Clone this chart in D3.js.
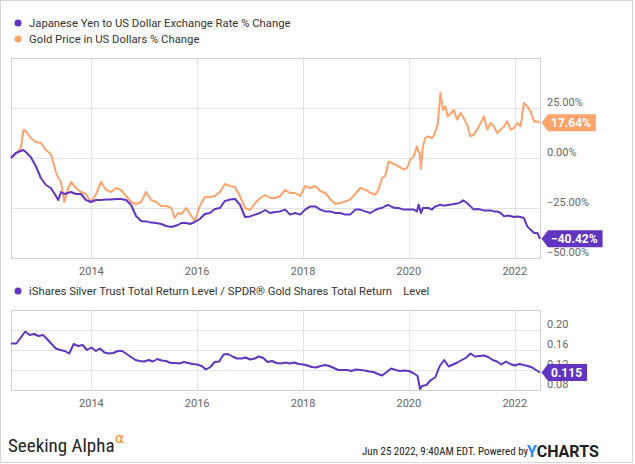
<!DOCTYPE html>
<html><head><meta charset="utf-8">
<script src="https://cdn.jsdelivr.net/npm/d3@7"></script>
<style>
html,body{margin:0;padding:0;background:#fff;}
svg{display:block;}
</style></head>
<body>
<svg id="chart" width="635" height="464"></svg>
<script>
// ---------------- DATA ----------------
const topDates = [
"2012-06-25","2012-07-28","2012-09-01","2012-09-19","2012-10-05","2012-11-08","2012-12-13","2013-01-17","2013-02-21","2013-03-27",
"2013-05-01","2013-05-17","2013-06-05","2013-06-28","2013-07-21","2013-08-13","2013-09-16","2013-10-21","2013-11-24","2013-12-29",
"2014-02-02","2014-03-08","2014-04-12","2014-05-16","2014-06-20","2014-07-24","2014-08-28","2014-10-02","2014-11-05","2014-12-10",
"2015-01-13","2015-02-17","2015-03-24","2015-04-28","2015-06-01","2015-07-06","2015-07-29","2015-08-21","2015-09-13","2015-10-18",
"2015-11-12","2015-12-16","2016-01-19","2016-02-23","2016-03-29","2016-05-02","2016-06-06","2016-07-10","2016-08-14","2016-09-18",
"2016-10-22","2016-11-26","2016-12-31","2017-02-04","2017-03-10","2017-04-14","2017-05-18","2017-06-22","2017-07-26","2017-08-30",
"2017-10-03","2017-11-07","2017-12-12","2018-01-15","2018-02-19","2018-03-26","2018-04-29","2018-06-03","2018-07-07","2018-08-11",
"2018-09-14","2018-10-19","2018-11-22","2018-12-27",
"2019-01-30","2019-03-06","2019-04-10","2019-05-14","2019-06-06","2019-06-29","2019-07-22","2019-08-14","2019-09-06","2019-09-29",
"2019-10-22","2019-11-26","2019-12-19","2020-01-11","2020-02-03","2020-02-26","2020-03-08","2020-03-15","2020-03-24","2020-04-07",
"2020-04-23","2020-05-16","2020-06-08","2020-06-25","2020-07-18","2020-08-06","2020-08-24","2020-09-09","2020-09-25","2020-10-19",
"2020-11-06","2020-11-29","2020-12-22","2021-01-10","2021-02-06","2021-03-01","2021-03-24","2021-04-16","2021-05-10","2021-06-02",
"2021-06-25","2021-07-18","2021-08-10","2021-09-02","2021-09-25","2021-10-19","2021-11-10","2021-12-03","2021-12-26","2022-01-18",
"2022-02-10","2022-03-05","2022-03-28","2022-04-20","2022-05-14","2022-06-06","2022-06-24"
];
const yenChange = [
0,2.5,3.5,4,3,0.5,-4,-10,-13.5,-15,
-19,-21,-17,-18,-17.5,-17,-18,-18,-21,-22,
-21,-21,-20.8,-20.8,-20.5,-20.5,-21,-23.5,-29,-31.5,
-31.7,-32.3,-32.5,-33,-34,-34.5,-34,-33.5,-32.5,-32.5,
-33,-32,-30.5,-28,-27.5,-25.5,-25,-21.5,-20.8,-20.5,
-23.3,-29.5,-29.2,-28.3,-27.5,-26,-27.5,-27,-26.7,-25.8,
-28.3,-27.5,-28.3,-25.8,-24.2,-24.2,-25.8,-26.7,-26.7,-27.5,
-27.5,-28.3,-28.3,-25.8,
-25.8,-26.7,-27.5,-26,-25.3,-25,-24,-23.5,-24.5,-25,
-25,-25.8,-25.8,-25.8,-25.8,-26.7,-23.3,-25,-27.5,-25,
-25,-25,-25.8,-24.5,-23.8,-23.3,-23.8,-23.8,-23.5,-23.3,
-23,-22.8,-22.2,-21.2,-22.5,-24.2,-25.8,-25.5,-25.8,-26.2,
-26.2,-26.2,-26.7,-26.7,-27.5,-29.2,-28.8,-29,-29.5,-29.2,
-29.5,-30,-34.2,-35.8,-37.5,-37.5,-40.42
];
const goldChange = [
0,2,5,14,13.5,10,8,7.5,4,2,
-7,-10,-12,-22,-16,-12,-15,-17,-18,-22,
-18,-12,-16,-17,-15,-16,-19,-22,-23,-22,
-17,-21,-22,-24,-24,-25,-30,-27.5,-28,-25,
-28,-31.5,-24,-19.5,-19.5,-19,-17,-13,-14,-14.5,
-19,-25,-26,-22.5,-20,-18.5,-20,-20,-19,-16,
-17.5,-17.5,-19,-14,-15,-14,-16.5,-17.5,-20.5,-23,
-22.5,-21.7,-20.8,-18,
-15,-15.8,-17.5,-18.3,-15.8,-10,-9,-1.7,-2.5,-3.3,
-4.2,-5.8,-5,-0.8,0.8,5.8,3,2.5,-5.5,5.8,
10,10.8,10,11.7,16.7,32.5,24,25.8,20.8,22.5,
24,19.2,22.5,20.5,16.7,10.8,11.7,14.2,17.5,20.8,
14.2,17.5,15.8,12.5,14.2,15.8,18.3,14.2,15,17.5,
15.8,27.5,25.8,23.3,18.3,18.3,17.64
];
const ratioDates = [
"2012-06-25","2012-07-01","2012-08-01","2012-09-01","2012-10-01","2012-11-01","2012-12-01","2013-01-01","2013-02-01","2013-03-01","2013-04-01","2013-05-01","2013-06-01",
"2013-07-01","2013-08-01","2013-09-01","2013-10-01","2013-11-01","2013-12-01","2014-01-01","2014-02-01","2014-03-01","2014-04-01","2014-05-01","2014-06-01",
"2014-07-01","2014-08-01","2014-09-01","2014-10-01","2014-11-01","2014-12-01","2015-01-01","2015-02-01","2015-03-01","2015-04-01","2015-05-01","2015-06-01",
"2015-07-01","2015-08-01","2015-09-01","2015-10-01","2015-11-01","2015-12-01","2016-01-01","2016-02-01","2016-03-01","2016-04-01","2016-05-01","2016-06-01",
"2016-07-01","2016-08-01","2016-09-01","2016-10-01","2016-11-01","2016-12-01","2017-01-01","2017-02-01","2017-03-01","2017-04-01","2017-05-01","2017-06-01",
"2017-07-01","2017-08-01","2017-09-01","2017-10-01","2017-11-01","2017-12-01","2018-01-01","2018-02-01","2018-03-01","2018-04-01","2018-05-01","2018-06-01",
"2018-07-01","2018-08-01","2018-09-01","2018-10-01","2018-11-01","2018-12-01","2019-01-01","2019-02-01","2019-03-01","2019-04-01","2019-05-01","2019-06-01",
"2019-07-01","2019-08-01","2019-09-01","2019-10-01","2019-11-01","2019-12-01","2020-01-01","2020-02-01","2020-03-01","2020-03-18","2020-04-01","2020-05-01","2020-06-01",
"2020-07-01","2020-08-01","2020-09-01","2020-10-01","2020-11-01","2020-12-01","2021-01-01","2021-02-01","2021-03-01","2021-04-01","2021-05-01","2021-06-01",
"2021-07-01","2021-08-01","2021-09-01","2021-10-01","2021-11-01","2021-12-01","2022-01-01","2022-02-01","2022-03-01","2022-04-01","2022-05-01","2022-06-01","2022-06-24"
];
const ratioValues = [
0.172,0.173,0.173,0.185,0.197,0.19,0.192,0.188,0.19,0.182,0.172,0.163,0.16,
0.158,0.153,0.172,0.168,0.17,0.16,0.165,0.158,0.163,0.155,0.153,0.154,
0.158,0.158,0.152,0.146,0.14,0.138,0.137,0.14,0.137,0.142,0.139,0.138,
0.134,0.134,0.133,0.136,0.134,0.132,0.131,0.128,0.121,0.126,0.136,0.137,
0.151,0.152,0.147,0.143,0.143,0.145,0.141,0.143,0.147,0.144,0.136,0.138,
0.134,0.133,0.135,0.133,0.135,0.132,0.131,0.129,0.126,0.125,0.128,0.13,
0.128,0.124,0.12,0.12,0.12,0.118,0.121,0.12,0.119,0.117,0.116,0.112,
0.109,0.116,0.123,0.12,0.118,0.119,0.118,0.114,0.108,0.082,0.088,0.09,0.1,
0.105,0.128,0.14,0.127,0.131,0.135,0.14,0.145,0.153,0.147,0.148,0.149,
0.146,0.14,0.137,0.131,0.137,0.132,0.129,0.132,0.13,0.128,0.125,0.119,0.115
];
const topTicks = [25, 0, -25, -50];
const bottomTicks = [0.20, 0.16, 0.12, 0.08];
const yearTicks = ["2014","2016","2018","2020","2022"];
const topLegend = ["Japanese Yen to US Dollar Exchange Rate % Change","Gold Price in US Dollars % Change"];
const bottomLegend = "iShares Silver Trust Total Return Level / SPDR\u00AE Gold Shares Total Return \u00A0\u00A0 Level";

// ---------------- STYLE ----------------
const PURPLE = "#6234c2", ORANGE = "#fda36c";
const GRID = "#e3e3e3", FRAME = "#d0d0d0", TICKTXT = "#666", FONT = "Roboto, 'Noto Sans', sans-serif";

const parse = d3.timeParse("%Y-%m-%d");
const svg = d3.select("#chart");

// outer frame
svg.append("rect").attr("x",0.5).attr("y",0.5).attr("width",632).attr("height",462)
  .attr("fill","none").attr("stroke","#d6d6d6");

const x = d3.scaleTime().domain([parse("2012-06-25"), parse("2022-06-24")]).range([11, 540]);
const yTop = d3.scaleLinear().domain([-50, 50]).range([258, 58]);
const yBot = d3.scaleLinear().domain([0.08, 0.24]).range([390, 310]);

function panel(y, ticks, fmt, top, bottom) {
  const g = svg.append("g");
  g.selectAll(".vg").data(yearTicks).join("line")
    .attr("x1", d => Math.round(x(parse(d + "-01-01"))) + 0.5)
    .attr("x2", d => Math.round(x(parse(d + "-01-01"))) + 0.5)
    .attr("y1", top).attr("y2", bottom).attr("stroke", GRID);
  g.selectAll(".hg").data(ticks).join("line")
    .attr("x1", 11).attr("x2", 540)
    .attr("y1", d => Math.round(y(d)) + 0.5).attr("y2", d => Math.round(y(d)) + 0.5)
    .attr("stroke", GRID);
  g.append("rect").attr("x", 11.5).attr("y", top + 0.5).attr("width", 529).attr("height", bottom - top)
    .attr("fill", "none").attr("stroke", FRAME);
  g.selectAll(".yl").data(ticks).join("text")
    .attr("x", 547).attr("y", d => y(d) - 2)
    .attr("font-family", FONT).attr("font-size", 11).attr("fill", TICKTXT)
    .text(fmt);
  g.selectAll(".xl").data(yearTicks).join("text")
    .attr("x", d => x(parse(d + "-01-01"))).attr("y", bottom + 17)
    .attr("text-anchor", "middle")
    .attr("font-family", FONT).attr("font-size", 11).attr("fill", TICKTXT)
    .text(d => d);
  return g;
}

panel(yTop, topTicks, d => d3.format(".2f")(d) + "%", 58, 258);
panel(yBot, bottomTicks, d => d3.format(".2f")(d), 310, 390);

function drawLine(dates, vals, y, color) {
  const data = dates.map((d, i) => ({ t: parse(d), v: vals[i] }));
  svg.append("path").datum(data)
    .attr("fill", "none").attr("stroke", color).attr("stroke-width", 2)
    .attr("stroke-linejoin", "round")
    .attr("d", d3.line().x(d => x(d.t)).y(d => y(d.v)));
  return data[data.length - 1];
}

const lastGold = drawLine(topDates, goldChange, yTop, ORANGE);
const lastYen = drawLine(topDates, yenChange, yTop, PURPLE);
const lastRatio = drawLine(ratioDates, ratioValues, yBot, PURPLE);

function badge(yPos, text, color) {
  const g = svg.append("g");
  const t = g.append("text").attr("x", 551).attr("y", yPos + 4.5)
    .attr("font-family", FONT).attr("font-size", 12).attr("font-weight", "bold")
    .attr("fill", "#fff").text(text);
  const w = t.node().getComputedTextLength();
  const h = 17, tip = 541.5, left = 548, right = 551 + w + 5;
  g.insert("path", "text")
    .attr("d", `M${tip},${yPos} L${left},${yPos - h/2} L${right},${yPos - h/2} L${right},${yPos + h/2} L${left},${yPos + h/2} Z`)
    .attr("fill", color);
}
badge(yTop(lastGold.v), d3.format(".2f")(lastGold.v) + "%", ORANGE);
badge(yTop(lastYen.v), d3.format(".2f")(lastYen.v) + "%", PURPLE);
badge(yBot(lastRatio.v), d3.format(".3f")(lastRatio.v), PURPLE);

// legends
const LEG = 11.3;
const lg = svg.append("g");
[PURPLE, ORANGE].forEach((c, i) => {
  lg.append("circle").attr("cx", 18).attr("cy", 23 + i * 16).attr("r", 3.5).attr("fill", c);
  lg.append("text").attr("x", 29).attr("y", 27 + i * 16)
    .attr("font-family", FONT).attr("font-size", LEG).attr("fill", "#333").text(topLegend[i]);
});
lg.append("circle").attr("cx", 18).attr("cy", 291).attr("r", 3.5).attr("fill", PURPLE);
lg.append("text").attr("x", 29).attr("y", 295)
  .attr("font-family", FONT).attr("font-size", LEG).attr("fill", "#333").text(bottomLegend);

// footer
const NARROW = "'Liberation Sans Narrow', 'Arial Narrow', 'Roboto Condensed', 'Liberation Sans', sans-serif";
svg.append("text").attr("x", 8).attr("y", 452)
  .attr("font-family", NARROW).attr("font-size", 19).attr("fill", "#222").text("Seeking Alpha");
svg.append("text").attr("x", 115).attr("y", 443)
  .attr("font-family", "'DejaVu Sans', sans-serif").attr("font-size", 14).attr("fill", "#ff8a1a").text("\u03B1");
svg.append("text").attr("x", 362).attr("y", 455)
  .attr("font-family", NARROW).attr("font-size", 11).attr("fill", "#222").text("Jun 25 2022, 9:40AM EDT.  Powered by");
const yc = svg.append("text").attr("x", 527).attr("y", 457)
  .attr("font-family", "Roboto, sans-serif").attr("font-size", 16).attr("font-weight", "bold").attr("fill", "#222");
yc.append("tspan").attr("fill", "#1d8cf8").text("Y");
yc.append("tspan").text("CHARTS");
</script>
</body></html>
